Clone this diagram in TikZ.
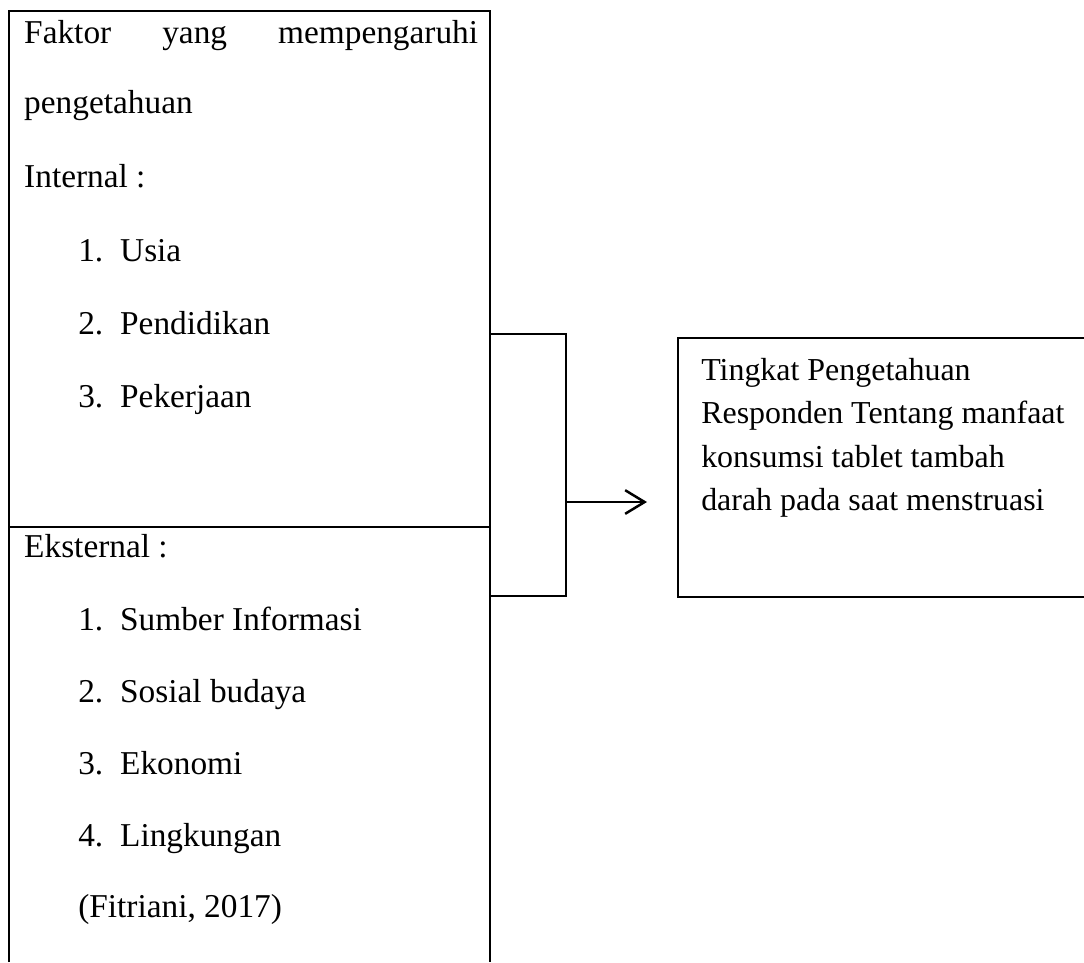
\documentclass[tikz,border=0pt]{standalone}
\usepackage{fontspec}
\setmainfont{Liberation Serif}
\usepackage{tikz}
\usetikzlibrary{arrows.meta}
\newcommand{\butir}[2]{\makebox[15.1pt][l]{#1.}#2}

\begin{document}
\begin{tikzpicture}[x=0.36pt, y=-0.36pt, line width=0.9pt, font=\fontsize{12}{14}\selectfont]
\useasboundingbox (0,0) rectangle (1084,962);
\draw (9,962) -- (9,11) -- (490,11) -- (490,962);
\draw (9,527) -- (490,527);
\begin{scope}[every node/.style={anchor=base west, inner sep=0pt}]
  \node (judul) at (23,43) {\makebox[163.4pt]{Faktor\hfill yang\hfill mempengaruhi}};
  \node (judulb) at (23,113) {pengetahuan};
  \node (internal) at (23,187) {Internal :};
  \node (usia) at (77,261) {\butir{1}{Usia}};
  \node (didik) at (77,334) {\butir{2}{Pendidikan}};
  \node (kerja) at (77,407) {\butir{3}{Pekerjaan}};
  \node (eksternal) at (23,557) {Eksternal :};
  \node (sumber) at (77,630) {\butir{1}{Sumber Informasi}};
  \node (sosial) at (77,702) {\butir{2}{Sosial budaya}};
  \node (ekonomi) at (77,774) {\butir{3}{Ekonomi}};
  \node (lingkungan) at (77,846) {\butir{4}{Lingkungan}};
  \node (sumberpustaka) at (77,917) {(Fitriani, 2017)};
\end{scope}
\begin{scope}[every node/.style={anchor=base west, inner sep=0pt, font=\fontsize{11.5}{14}\selectfont}]
  \node (hasila) at (700,380) {Tingkat Pengetahuan};
  \node (hasilb) at (700,423) {Responden Tentang manfaat};
  \node (hasilc) at (700,467) {konsumsi tablet tambah};
  \node (hasild) at (700,510) {darah pada saat menstruasi};
\end{scope}
\node[draw, minimum width=27.36pt, minimum height=94.3pt, inner sep=0pt] (gabung) at (528,465) {};
\node[draw, minimum width=152pt, minimum height=93.2pt, inner sep=0pt] (hasil) at (889,467.5) {};
\coordinate (ujung) at (647,502);
\draw[-{Straight Barb[length=7pt, width=8.5pt]}] (gabung.east |- ujung) -- (ujung);
\end{tikzpicture}
\end{document}
